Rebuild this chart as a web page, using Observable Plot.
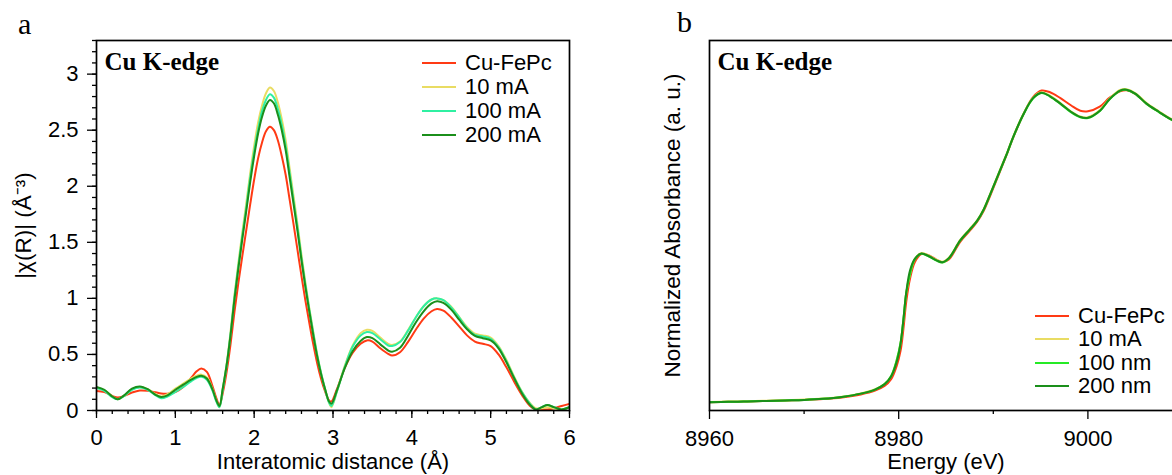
<!DOCTYPE html>
<html><head><meta charset="utf-8">
<script src="https://cdn.jsdelivr.net/npm/d3@7"></script>
<script src="https://cdn.jsdelivr.net/npm/@observablehq/plot@0.6"></script>
<style>
html,body{margin:0;padding:0;background:#fff;overflow:hidden;}
#wrap{position:relative;width:1172px;height:475px;overflow:hidden;}
.panel{position:absolute;top:0;}
.letter{position:absolute;font-family:"Liberation Serif","Times New Roman",serif;font-size:30px;line-height:30px;}
.legend{position:absolute;font-family:"Liberation Sans",Arial,sans-serif;font-size:22px;color:#000;}
.legend .row{position:absolute;left:0;height:24px;display:flex;align-items:center;white-space:nowrap;}
.legend .sw{width:34px;height:2px;margin-right:9px;flex:none;}
</style></head><body><div id="wrap"></div>
<script>
// ---------- Panel a: |chi(R)| ----------
const titleA = "Cu K-edge";
const xLabelA = "Interatomic distance (Å)";
const yLabelA = "|χ(R)| (Å⁻³)";
const seriesA = ["Cu-FePc", "10 mA", "100 mA", "200 mA"];
const colorsA = ["#ff3a14", "#e9dc63", "#2ff0a2", "#1b8f1b"];
const xTicksA = [0, 1, 2, 3, 4, 5, 6];
const yTicksA = [0, 0.5, 1, 1.5, 2, 2.5, 3];

const R = [0, 0.1, 0.2, 0.27, 0.35, 0.45, 0.55, 0.65, 0.75, 0.82, 0.9, 1.0, 1.1, 1.2, 1.27, 1.33, 1.4, 1.47, 1.52,
  1.56, 1.6, 1.65, 1.7, 1.75, 1.8, 1.85, 1.9, 1.95, 2.0, 2.05, 2.1, 2.15, 2.2, 2.25, 2.3, 2.35, 2.4, 2.45, 2.5, 2.55, 2.6, 2.65, 2.7, 2.75, 2.8, 2.85, 2.9, 2.95, 2.98,
  3.05, 3.15, 3.25, 3.35, 3.43, 3.5, 3.6, 3.7, 3.75, 3.85, 3.95, 4.05, 4.15, 4.25, 4.32, 4.4, 4.5, 4.6, 4.7, 4.8, 4.9, 5.0, 5.1, 5.2, 5.3, 5.4, 5.5, 5.57, 5.65, 5.72, 5.8, 5.9, 6.0];

const cuFePcA = [0.175, 0.165, 0.13, 0.115, 0.13, 0.16, 0.178, 0.175, 0.162, 0.152, 0.15, 0.165, 0.21, 0.29, 0.35, 0.375, 0.345, 0.22, 0.11,
  0.05, 0.15, 0.34, 0.59, 0.88, 1.14, 1.38, 1.61, 1.84, 2.06, 2.25, 2.39, 2.49, 2.53, 2.50, 2.41, 2.27, 2.10, 1.88, 1.66, 1.43, 1.20, 0.98, 0.78, 0.59, 0.42, 0.28, 0.17, 0.09, 0.08,
  0.19, 0.38, 0.515, 0.595, 0.625, 0.615, 0.555, 0.505, 0.49, 0.52, 0.61, 0.72, 0.82, 0.885, 0.905, 0.89, 0.83, 0.75, 0.67, 0.615, 0.595, 0.575, 0.5, 0.385, 0.255, 0.135, 0.04, 0.01, 0.01, 0.01, 0.02, 0.04, 0.06];
const mA10 = [0.20, 0.18, 0.125, 0.10, 0.13, 0.19, 0.21, 0.19, 0.145, 0.125, 0.145, 0.195, 0.24, 0.285, 0.31, 0.32, 0.295, 0.195, 0.09,
  0.03, 0.19, 0.41, 0.70, 1.03, 1.32, 1.59, 1.85, 2.12, 2.36, 2.57, 2.72, 2.83, 2.88, 2.85, 2.75, 2.60, 2.41, 2.16, 1.91, 1.66, 1.39, 1.14, 0.91, 0.70, 0.50, 0.33, 0.19, 0.07, 0.03,
  0.17, 0.40, 0.58, 0.69, 0.72, 0.71, 0.65, 0.595, 0.585, 0.615, 0.715, 0.83, 0.93, 0.99, 1.0, 0.985, 0.925, 0.835, 0.745, 0.685, 0.67, 0.65, 0.575, 0.45, 0.3, 0.165, 0.065, 0.02, 0.02, 0.03, 0.02, 0.01, 0.03];
const mA100 = [0.20, 0.175, 0.12, 0.10, 0.13, 0.185, 0.205, 0.185, 0.135, 0.11, 0.125, 0.165, 0.21, 0.26, 0.29, 0.30, 0.275, 0.18, 0.08,
  0.03, 0.18, 0.40, 0.68, 1.01, 1.29, 1.56, 1.81, 2.08, 2.31, 2.51, 2.67, 2.77, 2.82, 2.79, 2.69, 2.55, 2.36, 2.12, 1.87, 1.63, 1.36, 1.12, 0.90, 0.69, 0.49, 0.33, 0.19, 0.07, 0.04,
  0.17, 0.39, 0.57, 0.67, 0.70, 0.69, 0.635, 0.58, 0.575, 0.61, 0.71, 0.83, 0.93, 0.99, 1.0, 0.985, 0.92, 0.83, 0.735, 0.675, 0.66, 0.64, 0.565, 0.44, 0.29, 0.16, 0.06, 0.01, 0.03, 0.05, 0.03, 0.01, 0.03];
const mA200 = [0.21, 0.185, 0.125, 0.10, 0.135, 0.195, 0.215, 0.19, 0.14, 0.12, 0.135, 0.185, 0.23, 0.275, 0.30, 0.31, 0.285, 0.19, 0.09,
  0.04, 0.19, 0.40, 0.67, 0.99, 1.27, 1.53, 1.78, 2.04, 2.27, 2.47, 2.62, 2.72, 2.77, 2.74, 2.64, 2.50, 2.32, 2.08, 1.84, 1.60, 1.34, 1.10, 0.88, 0.67, 0.48, 0.32, 0.19, 0.08, 0.06,
  0.18, 0.38, 0.53, 0.62, 0.655, 0.645, 0.59, 0.535, 0.525, 0.56, 0.665, 0.785, 0.885, 0.955, 0.975, 0.96, 0.9, 0.81, 0.725, 0.665, 0.645, 0.625, 0.555, 0.43, 0.285, 0.15, 0.05, 0.01, 0.03, 0.05, 0.03, 0.01, 0.03];

// ---------- Panel b: XANES ----------
const titleB = "Cu K-edge";
const xLabelB = "Energy (eV)";
const yLabelB = "Normalized Absorbance (a. u.)";
const seriesB = ["Cu-FePc", "10 mA", "100 nm", "200 nm"];
const colorsB = ["#ff3a14", "#e9dc63", "#25ea25", "#1a8f1a"];
const xTicksB = [8960, 8980, 9000];
const xMinorB = [8970, 8990, 9010];

const E = [8960, 8962, 8964, 8966, 8968, 8970, 8972, 8974, 8976, 8977.5, 8978.5, 8979.2, 8979.8, 8980.2, 8980.5, 8980.8, 8981.2, 8981.7, 8982.4, 8983.2, 8984, 8984.6, 8985.3, 8986.5, 8987.5, 8988.3, 8989, 8989.7, 8990.7, 8991.5, 8992.1, 8993.2, 8994.2, 8995.1, 8996, 8997.1, 8998.2, 8999.2, 9000, 9001.3, 9002.3, 9003.4, 9004.1, 9005, 9006.2, 9007.5, 9008.7, 9010];
const cuFePcB = [0.000, 0.002, 0.003, 0.005, 0.007, 0.009, 0.012, 0.018, 0.029, 0.043, 0.060, 0.085, 0.135, 0.190, 0.270, 0.370, 0.455, 0.515, 0.545, 0.540, 0.524, 0.515, 0.525, 0.590, 0.630, 0.664, 0.705, 0.762, 0.848, 0.918, 0.973, 1.060, 1.122, 1.146, 1.140, 1.118, 1.092, 1.072, 1.070, 1.088, 1.120, 1.143, 1.147, 1.134, 1.098, 1.068, 1.042, 1.020];
const mA10B = [0.001, 0.003, 0.004, 0.006, 0.008, 0.010, 0.014, 0.021, 0.033, 0.048, 0.067, 0.096, 0.156, 0.218, 0.302, 0.402, 0.472, 0.527, 0.549, 0.539, 0.524, 0.517, 0.532, 0.597, 0.637, 0.670, 0.712, 0.769, 0.854, 0.922, 0.977, 1.062, 1.120, 1.140, 1.127, 1.100, 1.070, 1.051, 1.048, 1.075, 1.117, 1.148, 1.151, 1.137, 1.100, 1.070, 1.044, 1.022];
const nm100 = [0.000, 0.002, 0.003, 0.005, 0.007, 0.009, 0.013, 0.020, 0.032, 0.047, 0.067, 0.097, 0.157, 0.220, 0.305, 0.403, 0.471, 0.525, 0.546, 0.536, 0.521, 0.514, 0.529, 0.594, 0.634, 0.667, 0.709, 0.766, 0.851, 0.919, 0.974, 1.059, 1.117, 1.137, 1.124, 1.097, 1.067, 1.048, 1.045, 1.072, 1.114, 1.145, 1.148, 1.134, 1.097, 1.067, 1.041, 1.019];
const nm200 = [0.000, 0.002, 0.003, 0.005, 0.007, 0.009, 0.013, 0.020, 0.032, 0.047, 0.066, 0.095, 0.150, 0.216, 0.305, 0.405, 0.485, 0.527, 0.547, 0.537, 0.522, 0.515, 0.530, 0.595, 0.635, 0.668, 0.710, 0.767, 0.852, 0.920, 0.975, 1.060, 1.118, 1.138, 1.125, 1.098, 1.068, 1.049, 1.046, 1.073, 1.115, 1.146, 1.149, 1.135, 1.098, 1.068, 1.042, 1.020];

// ---------- build tables ----------
const rowsA = [];
[cuFePcA, mA10, mA100, mA200].forEach((vals, i) => R.forEach((r, j) => rowsA.push({r, v: vals[j], s: seriesA[i]})));
const rowsB = [];
[cuFePcB, mA10B, nm100, nm200].forEach((vals, i) => E.forEach((e, j) => rowsB.push({e, v: vals[j], s: seriesB[i]})));

const sans = '"Liberation Sans", Arial, Helvetica, sans-serif';
const serif = '"Liberation Serif", "Times New Roman", serif';
const wrap = document.getElementById("wrap");

const minorXA = d3.range(0, 31).map(i => i / 5);
const minorYA = d3.range(0, 34).map(i => i / 10);

const plotA = Plot.plot({
  width: 600, height: 475,
  marginLeft: 96, marginRight: 31, marginTop: 40, marginBottom: 65,
  x: {domain: [0, 6]},
  y: {domain: [0, 3.3]},
  color: {domain: seriesA, range: colorsA},
  style: {fontFamily: sans, fontSize: "22px", color: "#000", background: "transparent", overflow: "visible"},
  marks: [
    Plot.line(rowsA, {x: "r", y: "v", z: "s", stroke: "s", strokeWidth: 2, curve: "catmull-rom", clip: true}),
    Plot.frame({stroke: "#000", strokeWidth: 1.7}),
    Plot.axisX({ticks: minorXA, tickSize: 4, tickFormat: () => "", label: null, strokeWidth: 1.3}),
    Plot.axisX({ticks: xTicksA, tickSize: 8, tickPadding: 11, tickFormat: d => String(d), label: null, fontSize: 22, strokeWidth: 1.3}),
    Plot.axisY({ticks: minorYA, tickSize: 4, tickFormat: () => "", label: null, strokeWidth: 1.3}),
    Plot.axisY({ticks: yTicksA, tickSize: 9, tickPadding: 9, tickFormat: d => String(d), label: null, fontSize: 22, strokeWidth: 1.3}),
    Plot.text([titleA], {text: d => d, frameAnchor: "top-left", dx: 8, dy: 12, lineAnchor: "top", textAnchor: "start", fontFamily: serif, fontWeight: "bold", fontSize: 25}),
    Plot.text([xLabelA], {text: d => d, frameAnchor: "bottom", dy: 51, lineAnchor: "middle", textAnchor: "middle", fontSize: 22}),
    Plot.text([yLabelA], {text: d => d, frameAnchor: "left", dx: -73, rotate: -90, lineAnchor: "middle", textAnchor: "middle", fontSize: 22.5})
  ]
});
plotA.classList.add("panel");
plotA.style.left = "0px";
wrap.appendChild(plotA);

const plotB = Plot.plot({
  width: 600, height: 475,
  marginLeft: 109, marginRight: 18, marginTop: 40, marginBottom: 65,
  x: {domain: [8960, 9010]},
  y: {domain: [-0.03, 1.33], axis: null},
  color: {domain: seriesB, range: colorsB},
  style: {fontFamily: sans, fontSize: "22px", color: "#000", background: "transparent", overflow: "visible"},
  marks: [
    Plot.line(rowsB, {x: "e", y: "v", z: "s", stroke: "s", strokeWidth: 2, curve: "catmull-rom", clip: true}),
    Plot.frame({stroke: "#000", strokeWidth: 1.7}),
    Plot.axisX({ticks: xMinorB, tickSize: 4, tickFormat: () => "", label: null, strokeWidth: 1.3}),
    Plot.axisX({ticks: xTicksB, tickSize: 9, tickPadding: 11, tickFormat: d => String(d), label: null, fontSize: 22, strokeWidth: 1.3}),
    Plot.text([titleB], {text: d => d, frameAnchor: "top-left", dx: 8, dy: 12, lineAnchor: "top", textAnchor: "start", fontFamily: serif, fontWeight: "bold", fontSize: 25}),
    Plot.text([xLabelB], {text: d => d, frameAnchor: "bottom", dy: 51, lineAnchor: "middle", textAnchor: "middle", fontSize: 22}),
    Plot.text([yLabelB], {text: d => d, frameAnchor: "left", dx: -37, rotate: -90, lineAnchor: "middle", textAnchor: "middle", fontSize: 22.5})
  ]
});
plotB.classList.add("panel");
plotB.style.left = "600px";
wrap.appendChild(plotB);

// ---------- panel letters ----------
function letter(t, left, top) {
  const d = document.createElement("div");
  d.className = "letter"; d.textContent = t;
  d.style.left = left + "px"; d.style.top = top + "px";
  wrap.appendChild(d);
}
letter("a", 18, 9);
letter("b", 677, 7);

// ---------- legends ----------
function legend(names, colors, left, top, step) {
  const g = document.createElement("div");
  g.className = "legend";
  g.style.left = left + "px"; g.style.top = top + "px";
  names.forEach((n, i) => {
    const row = document.createElement("div");
    row.className = "row";
    row.style.top = (i * step) + "px";
    const sw = document.createElement("span");
    sw.className = "sw"; sw.style.background = colors[i];
    const tx = document.createElement("span");
    tx.textContent = n;
    row.appendChild(sw); row.appendChild(tx);
    g.appendChild(row);
  });
  wrap.appendChild(g);
}
legend(seriesA, colorsA, 422, 51, 24);
legend(seriesB, colorsB, 1035, 304, 23.4);
</script>
</body></html>
